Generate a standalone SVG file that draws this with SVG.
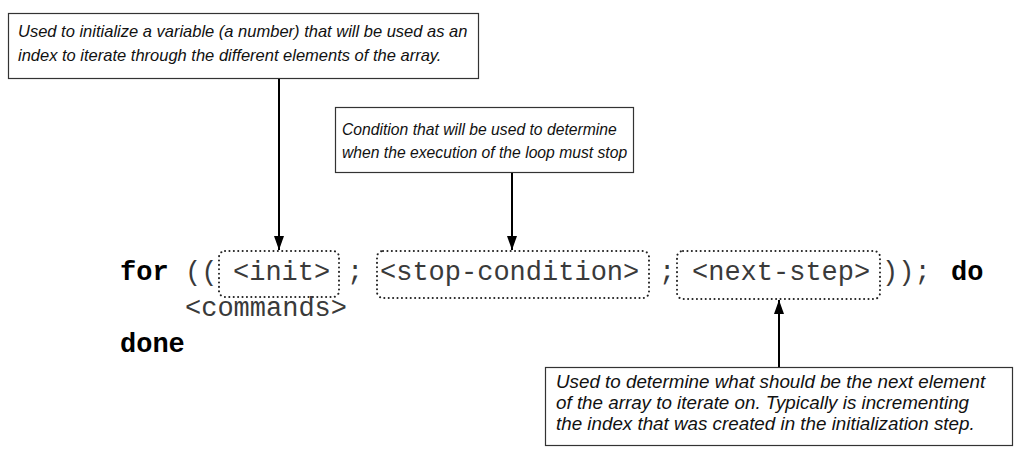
<svg xmlns="http://www.w3.org/2000/svg" width="1023" height="454" viewBox="0 0 1023 454">
<style>
.note{fill:#fff;stroke:#333;stroke-width:1.2}
.nt{font-family:"Liberation Sans",Arial,sans-serif;font-style:italic;fill:#111}
.code{font-family:"Courier New","Nimbus Mono PS","FreeMono","Liberation Mono",monospace;font-size:27px;fill:#3a3a3a}
.kw{font-weight:bold;fill:#000}
.dot{fill:none;stroke:#222;stroke-width:2;stroke-dasharray:0.1 4.3;stroke-linecap:round}
.conn{stroke:#000;stroke-width:2;fill:none}
</style>
<defs>
<marker id="ah" viewBox="0 0 14 10" refX="14" refY="5" markerWidth="7" markerHeight="5" orient="auto" markerUnits="strokeWidth">
<path d="M0,0 L14,5 L0,10 z" fill="#000"/>
</marker>
</defs>
<rect width="1023" height="454" fill="#fff"/>
<g id="code">
<text class="code kw" x="120" y="280">for</text>
<text class="code" x="185" y="280">((</text>
<text class="code" x="233" y="280">&lt;init&gt;</text>
<text class="code" x="347" y="280">;</text>
<text class="code" x="380" y="280">&lt;stop-condition&gt;</text>
<text class="code" x="659" y="280">;</text>
<text class="code" x="692" y="280">&lt;next-step&gt;</text>
<text class="code" x="882" y="280">));</text>
<text class="code kw" x="951" y="280">do</text>
<text class="code" x="185" y="316">&lt;commands&gt;</text>
<text class="code kw" x="120" y="352">done</text>
</g>
<g id="slot-init"><rect class="dot" x="219" y="251" width="120" height="46" rx="6"/></g>
<g id="slot-stop"><rect class="dot" x="377" y="251" width="272" height="47" rx="6"/></g>
<g id="slot-next"><rect class="dot" x="677" y="251" width="203" height="48" rx="6"/></g>
<g id="note-init">
<rect class="note" x="8.5" y="13.5" width="470" height="65"/>
<text class="nt" font-size="16.5" x="18" y="37">Used to initialize a variable (a number) that will be used as an</text>
<text class="nt" font-size="16.5" x="18" y="61">index to iterate through the different elements of the array.</text>
</g>
<g id="note-stop">
<rect class="note" x="335.5" y="107.5" width="298" height="65"/>
<text class="nt" font-size="15.7" x="342" y="135">Condition that will be used to determine</text>
<text class="nt" font-size="15.7" x="342" y="158">when the execution of the loop must stop</text>
</g>
<g id="note-next">
<rect class="note" x="545.5" y="367.5" width="467" height="78"/>
<text class="nt" font-size="18.8" x="556" y="388">Used to determine what should be the next element</text>
<text class="nt" font-size="18.8" x="556" y="409">of the array to iterate on. Typically is incrementing</text>
<text class="nt" font-size="18.8" x="556" y="430">the index that was created in the initialization step.</text>
</g>
<g id="connectors">
<line class="conn" x1="279" y1="79" x2="279" y2="250" marker-end="url(#ah)"/>
<line class="conn" x1="512" y1="173" x2="512" y2="250" marker-end="url(#ah)"/>
<line class="conn" x1="779" y1="367" x2="779" y2="300" marker-end="url(#ah)"/>
</g>
</svg>
